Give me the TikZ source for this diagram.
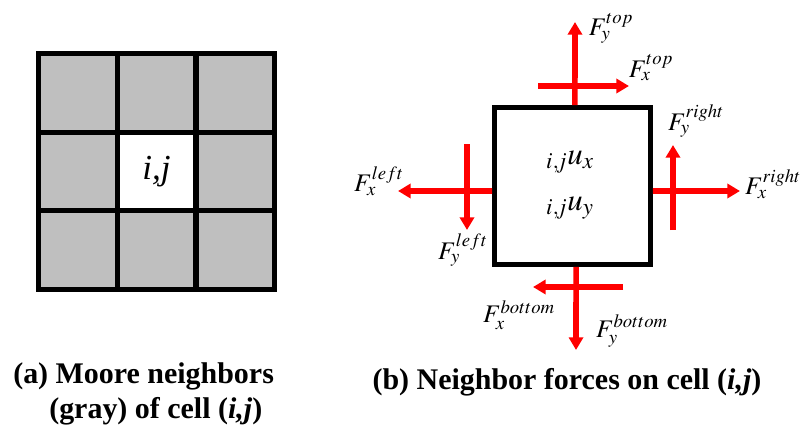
\documentclass[tikz,border=0pt]{standalone}
\usepackage{mathptmx}
\usepackage{fontspec}
\setmainfont{Liberation Serif}
\usetikzlibrary{arrows.meta}

\begin{document}
\begin{tikzpicture}[x=0.025cm, y=-0.025cm,
  every node/.style={inner sep=0pt},
  nbr/.style={draw=black, fill=gray!50, line width=3.5pt, minimum size=1.97cm},
  force/.style={draw=red, line width=4pt, -{Triangle[length=9pt,width=10pt]}},
  flabel/.style={font=\fontsize{18}{20}\selectfont},
  capt/.style={font=\fontsize{21.3}{24}\selectfont\bfseries}]
  \useasboundingbox (0,0) rectangle (804,428);

  % Moore neighborhood
  \node[nbr] (n11) at (78,93) {};
  \node[nbr] (n12) at (156.5,93) {};
  \node[nbr] (n13) at (235.5,93) {};
  \node[nbr] (n21) at (78,171.5) {};
  \node[nbr, fill=white, font=\fontsize{25}{27}\selectfont] (n22) at (156.5,171.5) {\textit{i,j}};
  \node[nbr] (n23) at (235.5,171.5) {};
  \node[nbr] (n31) at (78,250) {};
  \node[nbr] (n32) at (156.5,250) {};
  \node[nbr] (n33) at (235.5,250) {};

  % Celda con fuerzas
  \node[draw=black, line width=3.5pt, minimum width=3.9cm, minimum height=3.925cm] (cell) at (572.5,186) {};
  \node[font=\fontsize{22}{24}\selectfont] (ux) at (570,162) {${}_{i,\!j}u_{x}$};
  \node[font=\fontsize{22}{24}\selectfont] (uy) at (570,208) {${}_{i,\!j}u_{y}$};

  % Extremos de las flechas
  \coordinate (tipTopY) at (575,22);
  \coordinate (topXs) at (538,86);
  \coordinate (tipTopX) at (629,86);
  \coordinate (tipLeftX) at (398,191);
  \coordinate (leftYs) at (467,144);
  \coordinate (tipLeftY) at (467,230);
  \coordinate (tipRightX) at (740,191);
  \coordinate (rightYs) at (673,230);
  \coordinate (tipRightY) at (673,145);
  \coordinate (tipBotY) at (576,350);
  \coordinate (botXs) at (623,287);
  \coordinate (tipBotX) at (533,287);

  % Fuerzas
  \draw[force] ([xshift=0.06cm]cell.north) -- (tipTopY);
  \draw[force] (topXs) -- (tipTopX);
  \draw[force] ([yshift=-0.125cm]cell.west) -- (tipLeftX);
  \draw[force] (leftYs) -- (tipLeftY);
  \draw[force] ([yshift=-0.125cm]cell.east) -- (tipRightX);
  \draw[force] (rightYs) -- (tipRightY);
  \draw[force] ([xshift=0.09cm]cell.south) -- (tipBotY);
  \draw[force] (botXs) -- (tipBotX);

  % Etiquetas
  \node[flabel] (fyTop) at (611,28) {$F_{y}^{top}$};
  \node[flabel] (fxTop) at (651,68) {$F_{x}^{top}$};
  \node[flabel] (fxLeft) at (379,181) {$F_{x}^{left}$};
  \node[flabel] (fyLeft) at (463,250) {$F_{y}^{left}$};
  \node[flabel] (fyRight) at (696,121) {$F_{y}^{right}$};
  \node[flabel] (fxRight) at (773,184) {$F_{x}^{right}$};
  \node[flabel] (fxBot) at (519,315) {$F_{x}^{bottom}$};
  \node[flabel] (fyBot) at (632,331) {$F_{y}^{bottom}$};

  % Leyendas
  \node[capt, anchor=base west] (capA1) at (13,383) {(a) Moore neighbors};
  \node[capt, anchor=base west] (capA2) at (49,418) {(gray) of cell (\textit{i,j})};
  \node[capt, anchor=base] (capB) at (567,389) {(b) Neighbor forces on cell (\textit{i,j})};
\end{tikzpicture}
\end{document}
